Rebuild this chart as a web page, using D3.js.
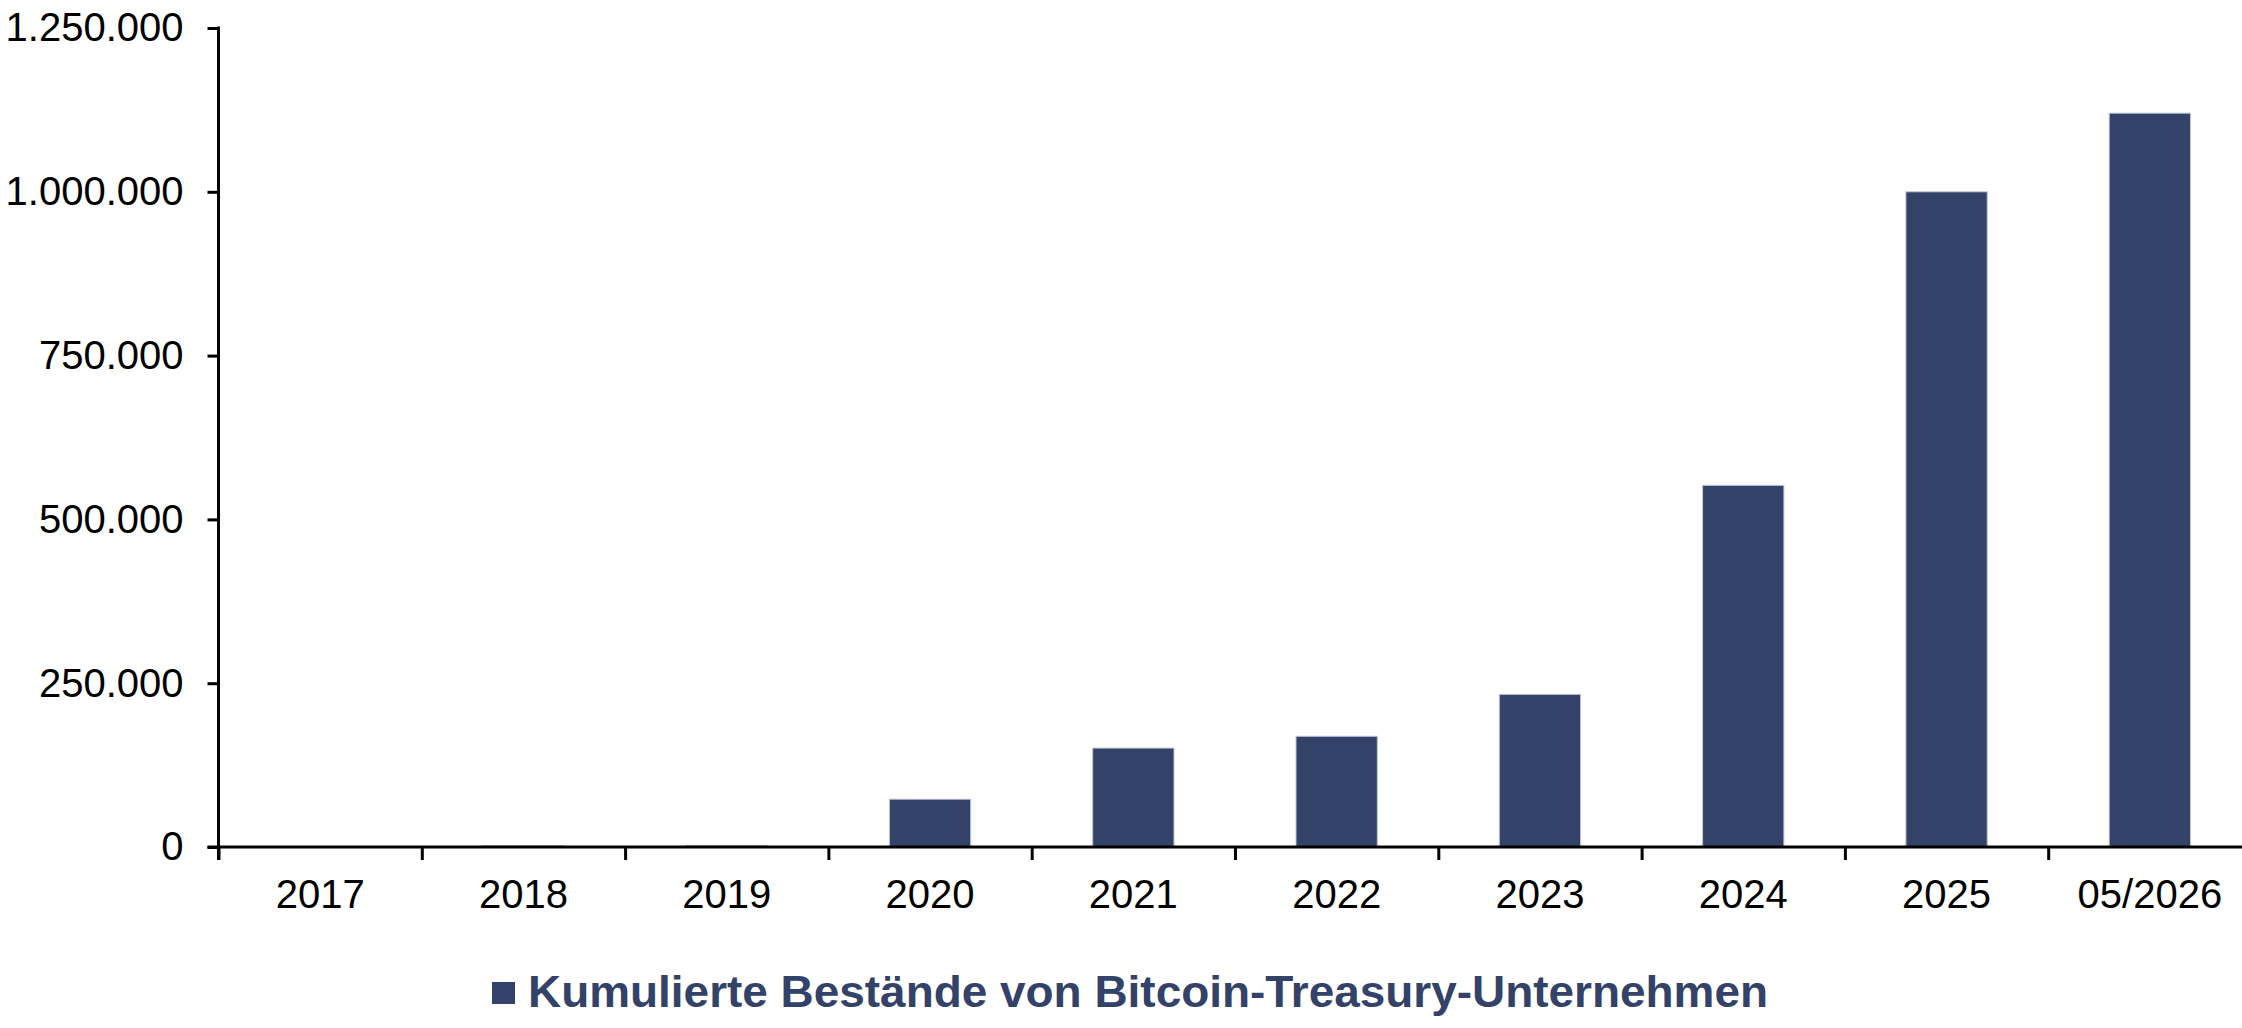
<!DOCTYPE html>
<html>
<head>
<meta charset="utf-8">
<script src="https://cdn.jsdelivr.net/npm/d3@7"></script>
<style>
  body { margin: 0; background: #fff; }
  svg { display: block; font-family: "Liberation Sans", Arial, sans-serif; }
</style>
</head>
<body>
<svg width="2242" height="1028"></svg>
<script>
var categories = ["2017", "2018", "2019", "2020", "2021", "2022", "2023", "2024", "2025", "05/2026"];
var holdings = [300, 2000, 2500, 73000, 151000, 169000, 233000, 552000, 1000000, 1120000];
var yTicks = [0, 250000, 500000, 750000, 1000000, 1250000];
var seriesName = "Kumulierte Bestände von Bitcoin-Treasury-Unternehmen";

var barColor = "#334268";

var svg = d3.select("svg"),
    plotLeft = 218.5,
    plotRight = 2251.5,
    plotTop = 28,
    plotBottom = 847;

var de = d3.formatLocale({decimal: ",", thousands: ".", grouping: [3], currency: ["", " €"]});
var fmt = de.format(",d");

var x = d3.scaleBand()
    .domain(categories)
    .range([plotLeft, plotRight])
    .paddingInner(0.6)
    .paddingOuter(0.3);

// boundaries between categories, used for the tick marks
var xEdge = d3.scaleLinear()
    .domain([0, categories.length])
    .range([plotLeft, plotRight]);

var y = d3.scaleLinear()
    .domain([0, 1250000])
    .range([plotBottom, plotTop]);

// bars
svg.append("g")
    .selectAll("rect")
    .data(holdings)
    .enter().append("rect")
      .attr("x", function(d, i) { return x(categories[i]); })
      .attr("y", function(d) { return y(d); })
      .attr("width", x.bandwidth())
      .attr("height", function(d) { return plotBottom - y(d); })
      .attr("fill", barColor)
      .attr("stroke", "#c3c8d6")
      .attr("stroke-width", 1);

// y axis
var yAxis = svg.append("g")
    .attr("class", "axis axis--y")
    .attr("transform", "translate(" + plotLeft + ",0)")
    .call(d3.axisLeft(y).tickValues(yTicks).tickFormat(fmt).tickSize(11).tickSizeOuter(0).tickPadding(24));

yAxis.select(".domain").remove();
yAxis.append("line")
    .attr("x1", 0).attr("x2", 0)
    .attr("y1", plotTop - 1.5).attr("y2", plotBottom + 13)
    .attr("stroke", "#000").attr("stroke-width", 3);

// x axis: labels centred in the bands
var xAxis = svg.append("g")
    .attr("class", "axis axis--x")
    .attr("transform", "translate(0," + plotBottom + ")")
    .call(d3.axisBottom(x).tickSize(0).tickPadding(33));

xAxis.select(".domain").remove();

// x axis: line and boundary ticks
var xTicks = svg.append("g")
    .attr("transform", "translate(0," + plotBottom + ")")
    .call(d3.axisBottom(xEdge).ticks(categories.length).tickFormat("").tickSize(13).tickSizeOuter(0));

xTicks.select(".domain")
    .attr("d", "M" + (plotLeft - 11) + ",0H2242");

svg.selectAll(".axis text, .tick text")
    .attr("fill", "#000")
    .style("font-size", "40px");

svg.selectAll(".domain, .tick line")
    .attr("stroke", "#000")
    .attr("stroke-width", 3);

// legend
var legend = svg.append("g")
    .attr("transform", "translate(492,982)");

legend.append("rect")
    .attr("width", 23)
    .attr("height", 22)
    .attr("fill", barColor);

legend.append("text")
    .attr("x", 36)
    .attr("y", 24.5)
    .attr("fill", barColor)
    .attr("textLength", 1240)
    .attr("lengthAdjust", "spacingAndGlyphs")
    .style("font-size", "44px")
    .style("font-weight", "bold")
    .text(seriesName);
</script>
</body>
</html>
